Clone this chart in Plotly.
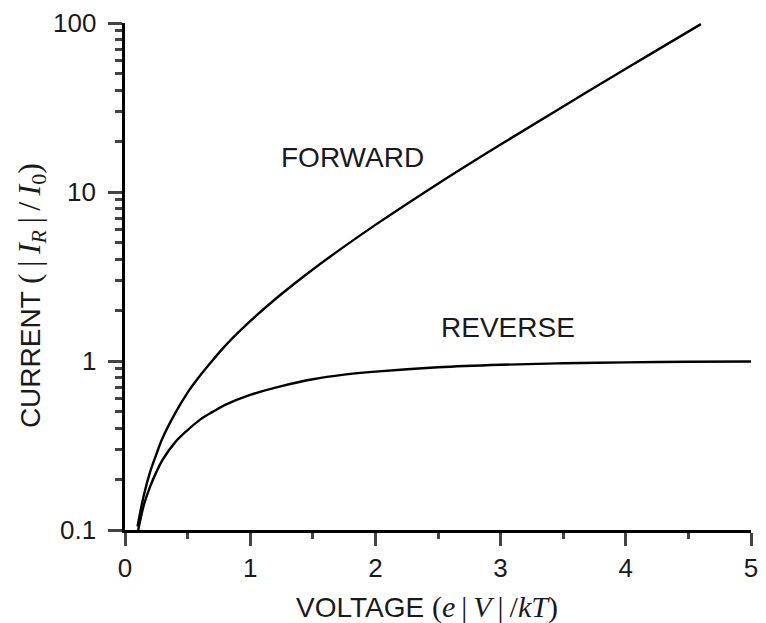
import math
import plotly.graph_objects as go

# Values
voltage_fwd = [0.1, 0.15, 0.2, 0.25, 0.3, 0.4, 0.5, 0.6, 0.7, 0.8, 1.0, 1.25, 1.5, 1.75, 2.0, 2.5, 3.0, 3.5, 4.0, 4.3, 4.6]
current_fwd = [0.105, 0.16, 0.22, 0.28, 0.35, 0.49, 0.65, 0.82, 1.01, 1.23, 1.72, 2.49, 3.48, 4.75, 6.39, 11.2, 19.1, 32.1, 53.6, 72.7, 98.5]
voltage_rev = [0.1, 0.15, 0.2, 0.25, 0.3, 0.4, 0.5, 0.6, 0.7, 0.8, 1.0, 1.25, 1.5, 1.75, 2.0, 2.5, 3.0, 3.5, 4.0, 4.5, 5.0]
current_rev = [0.095, 0.14, 0.18, 0.22, 0.26, 0.33, 0.39, 0.45, 0.50, 0.55, 0.63, 0.71, 0.78, 0.83, 0.865, 0.918, 0.950, 0.970, 0.982, 0.989, 0.993]

x_ticks = [0, 1, 2, 3, 4, 5]
y_ticks = [0.1, 1, 10, 100]
y_tick_text = ["0.1", "1", "10", "100"]

labels = ["FORWARD", "REVERSE"]
label_x = [1.82, 3.06]
label_y = [15.9, 1.57]

FONT = "Liberation Sans, Arial, sans-serif"
SERIF = "font-family:'Liberation Serif', 'Times New Roman', serif"
TXT = "#1a1a1a"
TS = "\u2009"


def m(s, size, italic=True):
    st = f"{SERIF}; font-size:{size}px" + ("; font-style:italic" if italic else "")
    return f'<span style="{st}">{s}</span>'


fig = go.Figure()
fig.add_trace(go.Scatter(x=voltage_fwd, y=current_fwd, mode="lines",
                         line=dict(color="black", width=2.4, shape="spline"),
                         showlegend=False))
fig.add_trace(go.Scatter(x=voltage_rev, y=current_rev, mode="lines",
                         line=dict(color="black", width=2.4, shape="spline"),
                         showlegend=False))

for t, xx, yy in zip(labels, label_x, label_y):
    fig.add_annotation(x=xx, y=math.log10(yy), yref="y", xref="x", text=t, showarrow=False,
                       xanchor="center", yanchor="middle",
                       font=dict(family=FONT, size=28, color=TXT))

# y tick labels placed a little further from the axis than plotly's default
for v, t in zip(y_ticks, y_tick_text):
    fig.add_annotation(xref="paper", yref="y", x=-0.043, y=math.log10(v), text=t, showarrow=False,
                       xanchor="right", yanchor="middle",
                       font=dict(family=FONT, size=26, color=TXT))

xs = 30
x_title = ("VOLTAGE " + m("(", xs, False) + m("e", xs) + m(TS + "|" + TS, xs, False) + m("V", xs)
           + m(TS + "|" + TS + "/", xs, False) + m("kT", xs) + m(")", xs, False))
ys = 32
y_title = ("CURRENT " + m("(" + TS + "|" + TS, ys, False) + m("I", ys)
           + f'<sub>{m("R", 22)}</sub>' + m(TS + "|" + TS + "/" + TS, ys, False)
           + m("I", ys) + f'<sub>{m("0", 22, False)}</sub>' + m(")", ys, False))

fig.add_annotation(xref="paper", yref="paper", x=0.482, y=-0.152, text=x_title, showarrow=False,
                   xanchor="center", yanchor="middle",
                   font=dict(family=FONT, size=28, color=TXT))
fig.add_annotation(xref="paper", yref="paper", x=-0.150, y=0.4615, text=y_title, showarrow=False,
                   xanchor="center", yanchor="middle",
                   textangle=-90, font=dict(family=FONT, size=28, color=TXT))

minor_x = [0.5, 1.5, 2.5, 3.5, 4.5]
minor_y = [k * d for d in (0.1, 1, 10) for k in range(2, 10)]

fig.update_xaxes(range=[0, 5], tickvals=x_ticks, ticks="outside", ticklen=13, tickwidth=2.5,
                 showline=True, linewidth=3, linecolor="black", showgrid=False, zeroline=False,
                 tickfont=dict(family=FONT, size=26, color=TXT),
                 minor=dict(tickvals=minor_x, ticks="outside", ticklen=6, tickwidth=2.5, showgrid=False))
fig.update_yaxes(type="log", range=[-1, 2], tickvals=y_ticks, showticklabels=False,
                 ticks="outside", ticklen=14, tickwidth=2.5,
                 showline=True, linewidth=3, linecolor="black", showgrid=False, zeroline=False,
                 minor=dict(tickvals=minor_y, ticks="outside", ticklen=7, tickwidth=2.5, showgrid=False))

fig.update_layout(width=766, height=623, plot_bgcolor="white", paper_bgcolor="white",
                  margin=dict(l=125, r=8, t=23, b=93))

fig.write_html("out.html")
